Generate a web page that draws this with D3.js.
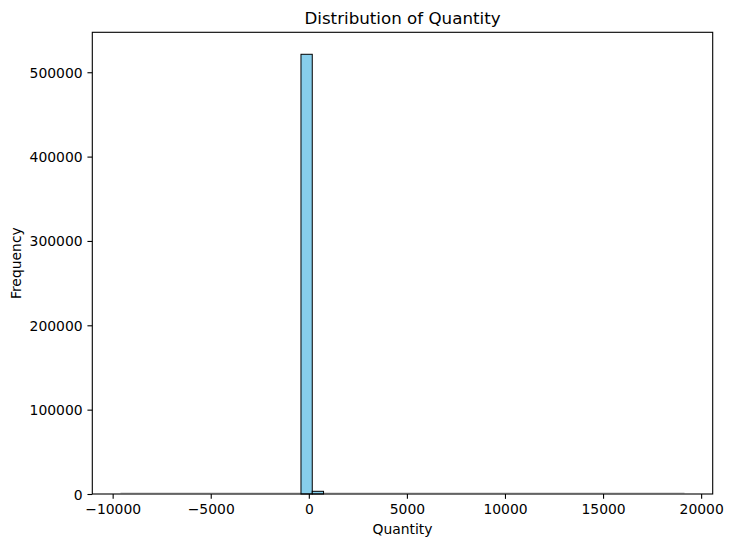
<!DOCTYPE html>
<html>
<head>
<meta charset="utf-8">
<script src="https://cdn.jsdelivr.net/npm/d3@7/dist/d3.min.js"></script>
<style>
  html, body { margin: 0; padding: 0; background: #fff; }
  svg { display: block; font-family: "DejaVu Sans", sans-serif; }
</style>
</head>
<body>
<svg id="chart" width="732" height="547"></svg>
<script>
// Histogram of Quantity: 50 equal-width bins over [-9600, 19152]
const binStart = -9600;
const binEnd = 19152;
const binCount = 50;
const counts = [
  1, 0, 0, 0, 0, 0, 0, 0, 0, 0,
  0, 0, 1, 0, 5, 30, 521300, 3200, 400, 60,
  30, 10, 5, 3, 2, 2, 1, 1, 0, 1,
  0, 0, 1, 0, 0, 0, 0, 0, 0, 0,
  0, 0, 0, 0, 0, 0, 0, 0, 0, 1
];
const xTicks = [-10000, -5000, 0, 5000, 10000, 15000, 20000];
const yTicks = [0, 100000, 200000, 300000, 400000, 500000];
const titleText = "Distribution of Quantity";
const xLabel = "Quantity";
const yLabel = "Frequency";

const margin = { left: 92.3, right: 732 - 712.7, top: 32.3, bottom: 547 - 494 };
const W = 732, H = 547;
const iw = W - margin.left - margin.right;
const ih = H - margin.top - margin.bottom;

const binW = (binEnd - binStart) / binCount;
const bins = counts.map((c, i) => ({ x0: binStart + i * binW, x1: binStart + (i + 1) * binW, c }));

const span = binEnd - binStart;
const x = d3.scaleLinear()
  .domain([binStart - 0.05 * span, binEnd + 0.05 * span])
  .range([0, iw]);
const yMax = d3.max(counts) * 1.05;
const y = d3.scaleLinear().domain([0, yMax]).range([ih, 0]);

const svg = d3.select("#chart");
const g = svg.append("g").attr("transform", `translate(${margin.left},${margin.top})`);

// bars (drawn as paths so zero-height bins still show their edge, as matplotlib does)
const tall = bins.filter(d => y(0) - y(d.c) >= 1);
g.append("line")
  .attr("x1", x(binStart)).attr("x2", x(binEnd))
  .attr("y1", ih - 1).attr("y2", ih - 1)
  .attr("stroke", "#bdbdbd").attr("stroke-width", 1);
g.append("g").selectAll("rect").data(tall).join("rect")
  .attr("x", d => x(d.x0))
  .attr("y", d => y(d.c))
  .attr("width", d => x(d.x1) - x(d.x0))
  .attr("height", d => y(0) - y(d.c))
  .attr("fill", "#87CEEB")
  .attr("stroke", "#000")
  .attr("stroke-width", 1);

const fmt = v => (v < 0 ? "\u2212" + Math.abs(v) : String(v));

// x axis
const xAxis = d3.axisBottom(x).tickValues(xTicks).tickSize(4.86).tickPadding(4.86).tickFormat(fmt);
const gx = g.append("g").attr("transform", `translate(0,${ih})`).call(xAxis);
// y axis
const yAxis = d3.axisLeft(y).tickValues(yTicks).tickSize(4.86).tickPadding(4.86).tickFormat(fmt);
const gy = g.append("g").call(yAxis);

[gx, gy].forEach(a => {
  a.select(".domain").remove();
  a.selectAll(".tick line").attr("stroke", "#000").attr("stroke-width", 1.1);
  a.selectAll(".tick text").attr("fill", "#000").style("font-size", "13.9px")
    .style("font-family", "'DejaVu Sans', sans-serif");
});
gx.selectAll(".tick text").attr("dy", null).attr("y", 19.8);
gy.selectAll(".tick text").attr("dy", "0.36em");

// frame
g.append("rect").attr("x", 0).attr("y", 0).attr("width", iw).attr("height", ih)
  .attr("fill", "none").attr("stroke", "#000").attr("stroke-width", 1.1);

// title & labels
svg.append("text").attr("x", margin.left + iw / 2).attr("y", 24)
  .attr("text-anchor", "middle").style("font-size", "16.7px").text(titleText);
svg.append("text").attr("x", margin.left + iw / 2).attr("y", 534)
  .attr("text-anchor", "middle").style("font-size", "13.9px").text(xLabel);
svg.append("text").attr("transform", `translate(21,${margin.top + ih / 2}) rotate(-90)`)
  .attr("text-anchor", "middle").style("font-size", "13.9px").text(yLabel);
</script>
</body>
</html>
